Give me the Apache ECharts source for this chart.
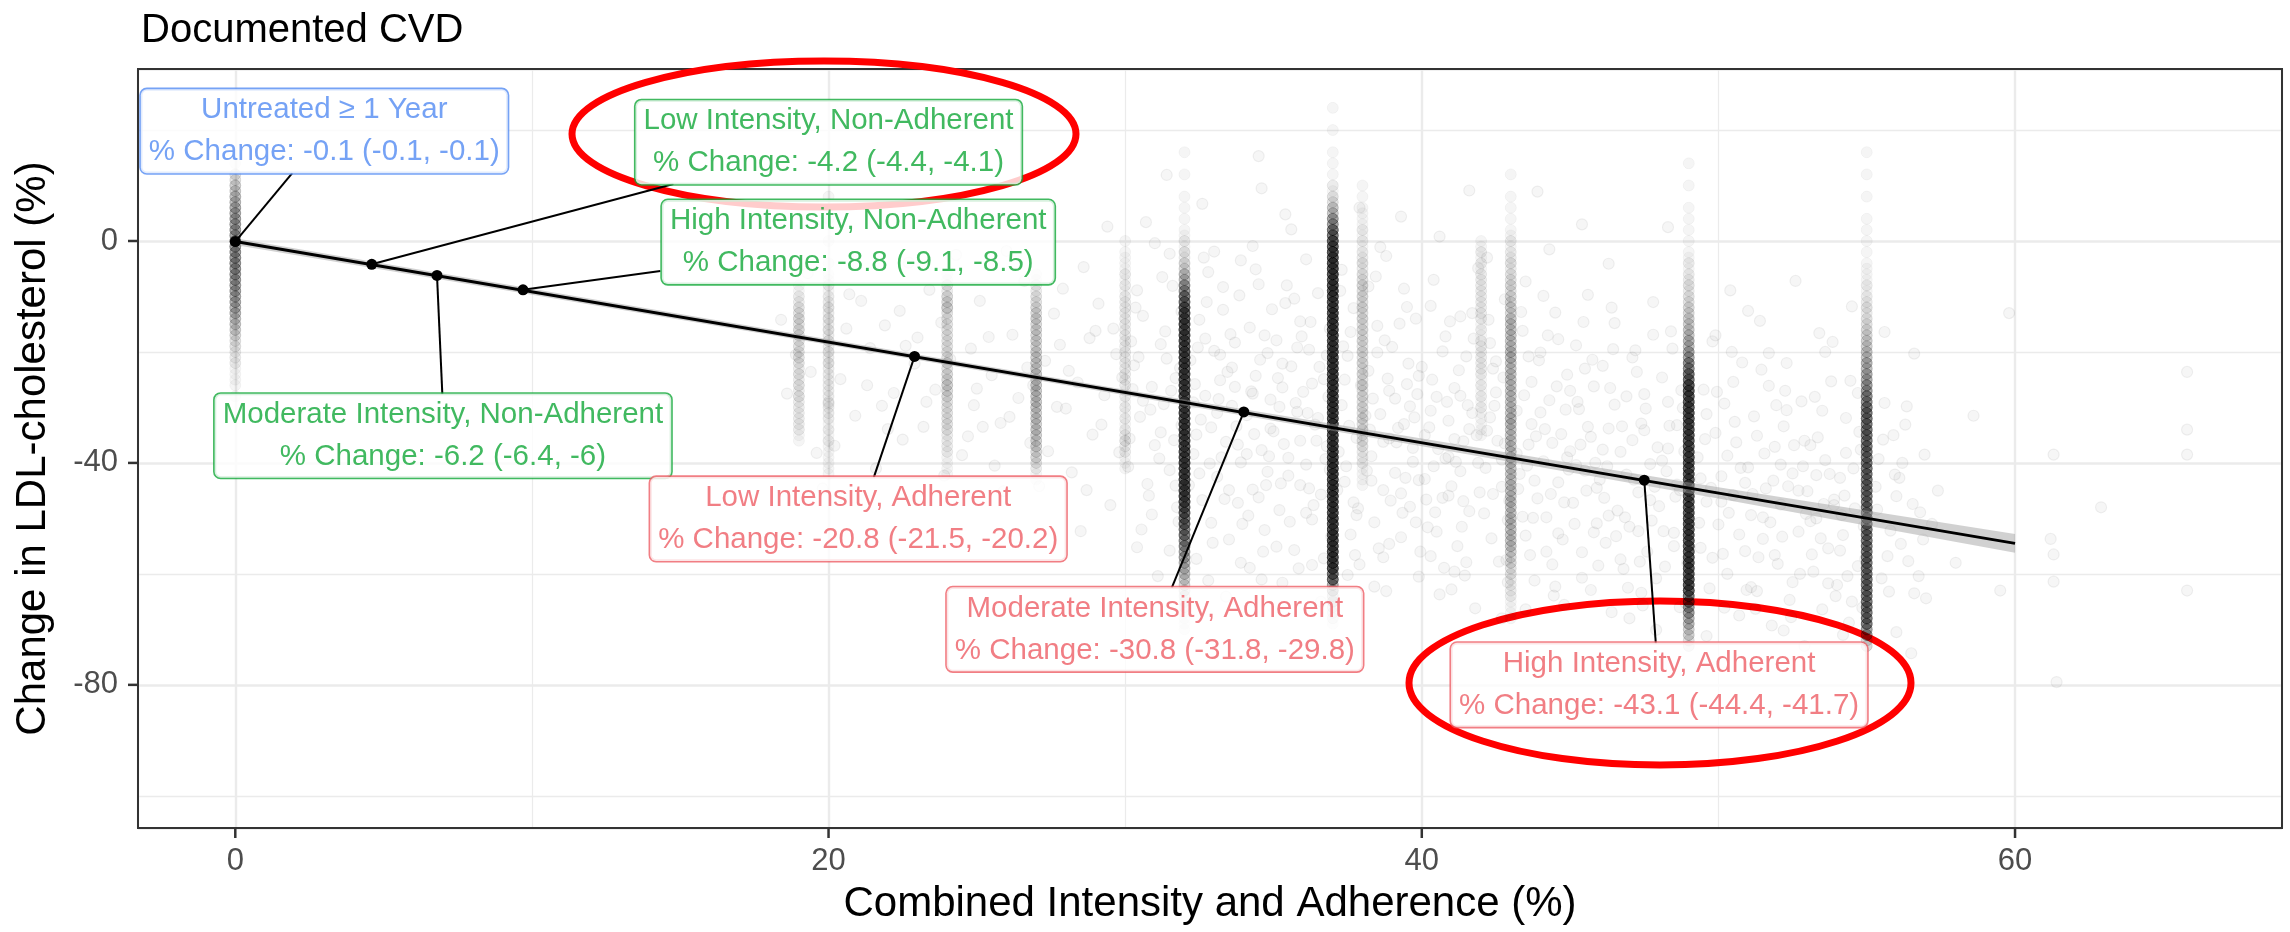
<!DOCTYPE html>
<html>
<head>
<meta charset="utf-8">
<title>Documented CVD</title>
<script src="https://cdn.jsdelivr.net/npm/echarts@6/dist/echarts.min.js"></script>
<style>
  html, body { margin: 0; padding: 0; background: #ffffff; }
  #chart { width: 2290px; height: 932px; }
</style>
</head>
<body>
<div id="chart"></div>
<script>
// ---------------- data ----------------
const xTicks = [0, 20, 40, 60];
const yTicks = [-80, -40, 0];
const xRange = [-3.28, 69.0];
const yRange = [-105.8, 31.0];

// Patients who share an exact intensity x adherence value form vertical columns.
// Each column: its x, the y of its first 2-point bin, and patient counts per bin going down.
const colX   = [0, 19, 20, 24, 27, 30, 32, 37, 38, 42, 43, 49, 55];
const colTop = [14, -8, 8, -6, -6, 0, 16, 24, 10, 0, 12, 14, 16];
const colCounts = [
  [1,6,10,14,18,20,22,24,24,24,22,20,18,16,12,9,6,4,3,2,1,1],
  [2,4,6,7,7,6,6,5,5,5,5,4,4,3,1],
  [1,0,1,0,1,0,1,2,3,4,5,5,5,5,5,5,4,4,4,4,3,3,3,2,2,1],
  [2,5,8,7,6,6,6,6,7,8,9,7,6,6,5,4,3,2,1],
  [2,4,6,8,9,9,9,10,10,11,12,12,11,11,11,10,8,5,2],
  [1,2,2,3,3,4,4,4,4,4,4,4,4,3,3,3,3,4,5,3,2],
  [1,0,1,0,1,1,1,2,3,5,8,14,24,36,48,52,52,52,52,52,52,52,52,52,52,52,52,52,52,52,52,52,44,38,32,26,20,15,11,8,5,3,2,1],
  [1,0,1,0,1,1,1,3,6,12,22,36,48,56,56,56,56,56,56,56,56,56,56,56,56,56,56,56,56,56,56,56,56,56,56,56,56,56,56,56,56,56,40,20,10,5,3],
  [1,1,2,2,3,3,4,5,6,7,7,7,7,7,7,7,7,7,7,7,7,7,7,6,4,3,2,1],
  [2,3,3,4,4,4,4,3,3,4,4,4,3,3,3,3,2,2],
  [1,0,1,1,1,2,3,4,5,6,7,8,9,12,12,12,14,12,12,12,12,12,14,12,12,12,12,12,12,12,12,12,12,12,9,7,5,4,3,2,1],
  [1,0,1,0,1,1,1,1,2,3,4,5,6,8,10,12,15,20,28,38,50,50,50,50,50,50,50,50,50,50,50,50,50,50,50,50,50,50,50,36,24,16,10,6],
  [1,0,1,0,1,0,1,1,1,1,2,2,3,4,5,6,8,10,12,15,18,22,28,34,34,34,34,34,34,34,34,34,34,34,34,34,34,34,34,34,34,34,34,22,8]
];

// Patients scattered between the columns: [x, y]
const cloudPts = [
  [18.4,-14.2],[18.6,-27.5],[19.3,-5.8],[19.6,-38.2],[20.4,-24.9],[20.7,-9.6],[20.9,-31.5],[21.1,-10.8],
  [21.4,-19.3],[21.6,-41.0],[21.9,-15.2],[22.2,-27.4],[22.5,-35.8],[22.7,-3.9],[22.9,-22.1],[23.2,-33.5],
  [23.4,-8.8],[21.8,-29.7],[19.8,-44.6],[22.4,-12.6],[20.2,-36.9],[18.9,-20.5],[23.0,-17.4],
  [23.6,-26.8],[23.8,-14.7],[24.3,-2.5],[24.5,-38.6],[24.8,-19.4],[25.1,-10.8],[25.2,-33.5],[25.5,-24.2],
  [25.8,-32.8],[25.9,-45.1],[26.2,-16.9],[26.4,-28.3],[26.6,-7.2],[26.8,-36.4],[27.3,-21.6],[27.6,-13.1],
  [27.8,-18.7],[28.0,-30.2],[28.2,-41.7],[28.4,-25.5],[28.6,-4.7],[28.8,-17.5],[28.9,-34.9],[29.1,-11.3],
  [29.3,-27.8],[29.5,-47.6],[29.7,-20.4],[29.8,-38.1],[23.9,-42.3],[24.9,-29.6],[26.0,-1.8],[27.1,-44.2],
  [28.5,-52.3],[29.4,2.6],[25.6,-40.5],[26.9,-26.0],[24.1,-21.3],[27.9,-8.6],
  [30.3,-22.4],[30.5,-31.7],[30.6,-13.5],[30.8,-45.9],[30.9,-26.3],[30.4,-55.2],[30.7,3.4],[31.0,-36.8],
  [31.2,-18.6],[31.4,11.9],[31.3,-29.4],[31.5,-41.3],[31.6,-8.1],[31.7,-24.7],[31.8,-50.6],[31.9,-33.2],
  [31.1,-60.4],[31.5,-2.3],[32.2,-21.5],[32.3,-38.4],[32.5,-14.2],[32.6,-46.7],[32.7,-27.9],[32.8,-5.6],
  [32.9,-33.6],[32.4,-57.3],[33.0,-19.8],[32.6,6.7],[33.1,-42.5],[33.2,-25.1],[33.3,-12.4],[33.4,-36.2],
  [33.5,-53.8],[33.6,-29.7],[33.7,-18.3],[33.8,-47.2],[33.9,-3.5],[33.4,-64.1],[33.6,-22.8],[33.9,-39.9],
  [34.1,-31.4],[34.2,-15.6],[34.3,-44.8],[34.4,-24.3],[34.5,15.3],[34.6,9.5],[34.6,-37.7],[34.7,-52.1],
  [34.8,-20.2],[34.9,-28.6],[34.2,-58.9],[34.5,-7.8],[34.8,-41.6],[34.3,-0.9],[35.0,-34.3],[35.1,-17.9],
  [35.2,-48.5],[35.3,-26.4],[35.4,-11.2],[35.5,-39.1],[35.6,-22.6],[35.7,-55.7],[35.8,-30.8],[35.9,-44.0],
  [35.3,-61.6],[35.6,2.1],[35.9,-14.5],[36.0,-27.2],[36.1,-40.3],[36.2,-19.6],[36.3,-50.2],[36.4,-33.1],
  [36.5,-9.4],[36.6,-45.7],[36.7,-24.9],[36.8,-37.0],[36.3,-58.4],[36.1,-3.3],[36.9,-15.8],[36.6,-65.0],
  [37.3,-29.6],[37.4,-43.4],[37.5,-20.7],[37.6,-52.9],[37.7,-12.1],[37.8,-35.5],[37.9,6.0],[37.5,-60.2],
  [37.3,-5.2],[37.7,-47.1],
  [38.2,-23.4],[38.3,-38.8],[38.4,-50.7],[38.5,-15.3],[38.6,-31.2],[38.7,-44.9],[38.8,-2.7],[38.9,-27.0],
  [38.4,-62.3],[38.7,-57.0],[38.9,-35.6],[39.0,-19.1],[39.1,-41.8],[39.2,-33.7],[39.3,-53.4],[39.4,-8.6],
  [39.5,-25.8],[39.6,-47.9],[39.7,-37.3],[39.8,-14.0],[39.9,-60.5],[39.3,4.4],[39.6,-29.8],[39.9,-43.1],
  [40.0,-22.7],[40.1,-35.0],[40.2,-51.6],[40.3,-11.7],[40.4,-40.6],[40.5,-28.1],[40.6,-63.7],[40.7,-46.3],
  [40.8,-17.2],[40.9,-32.4],[40.3,-56.8],[40.6,0.8],[40.9,-38.9],[41.0,-44.2],[41.1,-26.5],[41.2,-55.0],
  [41.3,-13.6],[41.4,-36.1],[41.5,-20.8],[41.6,-48.7],[41.7,-31.0],[41.8,-66.2],[41.9,-4.9],[41.3,-41.5],
  [41.6,9.1],[41.1,-59.6],[42.2,-34.2],[42.3,-18.4],[42.4,-45.6],[42.5,-27.3],[42.6,-57.8],[42.7,-39.4],
  [42.8,-10.5],[42.9,-50.3],[42.4,-23.0],[42.7,-68.0],[43.2,-30.6],[43.3,-42.0],[43.4,-16.2],[43.5,-53.1],
  [43.6,-36.7],[43.7,-25.4],[43.8,-61.2],[43.9,8.9],[43.9,-46.4],[43.5,-7.3],[43.7,-33.0],[44.0,-20.1],
  [44.1,-39.7],[44.2,-49.8],[44.3,-28.7],[44.4,-58.3],[44.5,-12.9],[44.6,-43.5],[44.7,-34.8],[44.8,-65.6],
  [44.9,-24.1],[44.3,-1.5],[44.6,-52.7],[45.0,-37.9],[45.1,-47.2],[45.2,-18.8],[45.3,-30.3],[45.4,-56.1],
  [45.5,-41.4],[45.6,-9.7],[45.7,-62.9],[45.8,-26.2],[45.9,-50.9],[45.4,3.0],[45.7,-35.3],
  [46.0,-43.0],[46.1,-22.5],[46.2,-54.4],[46.3,-33.8],[46.4,-66.9],[46.5,-14.8],[46.6,-48.6],[46.7,-38.0],
  [46.8,-59.1],[46.9,-28.0],[46.3,-4.1],[47.0,-51.5],[47.1,-35.9],[47.2,-19.7],[47.3,-45.3],[47.4,-63.4],
  [47.5,-27.6],[47.6,-56.0],[47.7,-40.2],[47.8,-11.0],[47.9,-70.1],[47.4,-32.9],[48.0,-47.8],[48.1,-24.6],
  [48.2,-58.7],[48.3,-37.4],[48.4,-16.3],[48.5,-52.6],[48.6,-43.9],[48.7,-66.0],[48.8,-30.1],[48.3,2.5],
  [49.3,-39.0],[49.4,-55.3],[49.5,-26.8],[49.6,-47.0],[49.7,-62.6],[49.8,-18.1],[49.9,-34.6],[49.6,-71.2],
  [50.0,-51.1],[50.1,-42.4],[50.2,-29.3],[50.3,-60.0],[50.4,-8.9],[50.5,-45.8],[50.6,-36.3],[50.7,-67.5],
  [50.8,-21.9],[50.9,-55.9],[51.0,-40.8],[51.1,-49.4],[51.2,-31.6],[51.3,-63.1],[51.4,-14.4],[51.5,-53.7],
  [51.6,-44.6],[51.7,-26.1],[51.8,-69.3],[51.9,-37.1],[52.0,-58.2],[52.1,-47.5],[52.2,-33.4],[52.3,-22.0],
  [52.4,-64.7],[52.5,-41.9],[52.6,-7.2],[52.7,-52.4],[52.8,-28.9],[52.9,-73.0],[53.0,-45.1],[53.1,-36.8],
  [53.2,-59.6],[53.3,-50.0],[53.4,-16.6],[53.5,-66.4],[53.6,-39.5],[53.7,-55.4],[53.8,-25.3],[53.9,-47.6],
  [54.0,-62.0],[54.1,-42.7],[54.2,-53.0],[54.3,-31.9],[54.4,-68.8],[54.5,-11.8],[54.6,-48.2],[54.7,-58.6],
  [54.8,-37.6],[55.3,-44.3],[55.5,-60.8],[55.6,-29.2],[55.8,-52.2],[56.0,-70.5],[56.2,-40.0],[56.4,-57.7],
  [56.6,-20.3],[56.8,-48.9],[57.0,-64.4],[55.9,-35.0],[56.5,-74.3],
  [57.4,-45.0],[58.0,-58.0],[58.6,-31.5],[59.8,-13.0],[59.5,-63.0],[61.2,-53.7],[61.3,-56.5],[61.3,-61.4],
  [61.4,-79.5],[61.3,-38.5],[65.8,-23.6],[65.8,-34.0],[65.8,-38.5],[65.8,-63.0],[62.9,-48.0],
  [29.2,-33.1],[29.6,-15.8],[30.1,-40.7],[30.4,-8.9],[30.6,-28.8],[30.9,-49.3],[31.2,-34.5],[31.4,-21.2],
  [31.7,-44.1],[31.9,-12.7],[30.2,-18.1],[31.0,-0.4],[29.9,-24.6],[31.5,-55.8],
  [32.3,-29.1],[32.5,-41.9],[32.7,-17.6],[32.9,-50.8],[33.1,-31.0],[33.3,-8.3],[33.5,-44.9],[33.7,-26.3],
  [33.9,-58.0],[32.4,-34.9],[33.2,-20.5],[33.8,-36.7],[32.8,-61.2],[33.0,-1.9],
  [34.1,-38.4],[34.3,-27.5],[34.5,-46.2],[34.7,-17.0],[34.9,-33.8],[35.1,-55.1],[35.3,-22.1],[35.5,-42.3],
  [35.7,-10.4],[35.9,-36.0],[36.1,-49.0],[36.3,-25.7],[36.5,-31.9],[36.7,-57.2],[36.9,-41.2],[34.4,-5.1],
  [35.2,-29.9],[35.8,-19.2],[36.2,-44.6],[36.8,-20.6],[34.6,-61.0],[35.4,4.8],
  [37.2,-38.0],[37.4,-25.0],[37.6,-16.4],[37.8,-49.4],[38.1,-31.5],[38.3,-43.2],[38.5,-20.1],[38.7,-36.2],
  [38.9,-54.6],[39.1,-28.4],[39.3,-45.5],[39.5,-11.9],[39.7,-39.8],[39.9,-24.3],[38.2,-8.2],[38.8,-63.1],
  [39.4,-33.0],[37.9,-58.3],[39.8,-50.7],[38.6,-1.1],
  [40.1,-42.9],[40.3,-30.6],[40.5,-52.4],[40.7,-19.9],[40.9,-45.9],[41.1,-35.7],[41.3,-27.9],[41.5,-57.9],
  [41.7,-13.0],[41.9,-40.0],[42.1,-49.1],[42.3,-31.8],[42.5,-21.7],[42.7,-44.3],[42.9,-61.5],[40.4,-7.0],
  [41.0,-62.8],[41.6,-33.9],[42.2,-3.0],[42.8,-36.5],[40.8,-39.2],[41.4,-46.9],
  [43.2,-38.3],[43.4,-49.7],[43.6,-20.8],[43.8,-43.2],[44.0,-30.9],[44.2,-56.0],[44.4,-36.4],[44.6,-17.7],
  [44.8,-47.1],[45.0,-27.0],[45.2,-40.4],[45.4,-60.7],[45.6,-33.5],[45.8,-52.5],[43.5,-66.4],[44.1,-9.9],
  [44.9,-39.0],[45.5,-23.0],[45.9,-44.5],[44.5,-62.3],
  [46.1,-37.6],[46.3,-49.5],[46.5,-29.5],[46.7,-57.4],[46.9,-42.1],[47.1,-21.0],[47.3,-52.3],[47.5,-34.1],
  [47.7,-46.7],[47.9,-60.8],[48.1,-39.6],[48.3,-29.0],[48.5,-55.0],[48.7,-44.9],[46.4,-12.0],[47.0,-68.0],
  [47.8,-16.9],[48.6,-33.2],[48.9,-65.3],
  [49.4,-42.8],[49.6,-31.2],[49.8,-57.1],[50.1,-47.0],[50.3,-38.7],[50.5,-25.4],[50.7,-52.9],[50.9,-43.6],
  [51.1,-62.4],[51.3,-35.1],[51.5,-49.8],[51.7,-20.2],[51.9,-56.6],[52.1,-40.3],[52.3,-30.5],[52.5,-61.5],
  [52.7,-45.0],[52.9,-36.0],[50.2,-66.1],[51.0,-12.6],[52.2,-70.2],[49.9,-17.0],
  [53.1,-50.5],[53.3,-42.2],[53.5,-30.6],[53.7,-61.7],[53.9,-46.6],[54.1,-55.8],[54.3,-38.2],[54.5,-65.0],
  [54.7,-27.4],[54.9,-51.4],[55.4,-39.3],[55.7,-56.8],[56.0,-46.0],[56.3,-33.1],[56.6,-63.5],[56.9,-53.8],
  [53.6,-20.0],[54.2,-71.0],[55.6,-16.4],[56.1,-42.7],
  [19.4,-23.6],[20.6,-15.8],[21.3,-26.0],[22.0,-33.9],[22.6,-18.9],[23.3,-29.0],[24.0,-12.1],[24.7,-35.2],
  [25.4,-17.3],[26.1,-31.7],[26.7,-22.8],[27.4,-37.9],[28.1,-23.4],[28.7,-44.9],[29.0,-16.2],[20.0,-29.3],
  [25.0,-26.6],[27.7,-29.9],
  [30.15,-35.6],[30.45,-20.9],[30.75,-43.8],[30.35,-12.0],[30.85,-30.4],[30.55,-52.0],[30.25,-26.7],
  [31.15,-39.2],[31.35,-16.3],[31.55,-27.0],[31.75,-48.0],[31.25,-6.5],[31.65,-35.9],[31.85,-22.9],
  [32.15,-44.0],[32.35,-25.8],[32.55,-32.2],[32.75,-11.0],[32.95,-54.4],[32.45,-19.2],[32.85,-40.1],[32.65,-3.0],
  [33.15,-28.5],[33.35,-46.5],[33.55,-16.8],[33.75,-33.4],[33.95,-51.0],[33.25,-39.0],[33.45,-23.6],[33.85,-9.8],
  [34.15,-49.5],[34.35,-34.8],[34.55,-21.4],[34.75,-44.0],[34.95,-12.3],[34.25,-27.1],[34.65,-56.0],[34.85,-38.8],
  [35.15,-24.7],[35.35,-36.6],[35.55,-50.6],[35.75,-29.2],[35.95,-17.2],[35.25,-43.7],[35.45,-8.0],[35.85,-59.0],
  [36.15,-31.0],[36.35,-47.6],[36.55,-22.7],[36.75,-39.3],[36.95,-53.2],[36.25,-14.6],[36.45,-36.0],[36.85,-28.1],
  [37.15,-44.9],[37.35,-19.0],[37.55,-33.3],[37.75,-56.6],[37.95,-26.0],[37.25,-9.0],[37.45,-40.6],[37.85,-48.2],
  [38.15,-41.4],[38.35,-28.4],[38.55,-55.4],[38.75,-17.9],[38.95,-46.8],[38.25,-34.0],[38.45,-6.4],[38.85,-24.8],
  [39.15,-36.3],[39.35,-49.0],[39.55,-22.1],[39.75,-31.8],[39.95,-56.0],[39.25,-14.9],[39.45,-42.7],[39.85,-27.6],
  [40.15,-46.6],[40.35,-25.0],[40.55,-37.5],[40.75,-58.9],[40.95,-14.5],[40.25,-33.6],[40.45,-48.9],[40.85,-29.0],
  [41.15,-39.8],[41.35,-51.5],[41.55,-29.6],[41.75,-17.6],[41.95,-45.3],[41.25,-23.3],[41.45,-60.3],[41.85,-35.0],
  [42.15,-40.9],[42.35,-53.6],[42.55,-36.0],[42.75,-24.6],[42.95,-46.8],[42.25,-14.2],[42.45,-29.7],[42.85,-57.5],
  [43.25,-44.7],[43.45,-27.8],[43.65,-56.6],[43.85,-35.2],[43.35,-12.8],[43.55,-40.5],[43.75,-49.9],[43.95,-21.5],
  [44.15,-33.9],[44.35,-45.6],[44.55,-26.2],[44.75,-53.8],[44.95,-41.2],[44.25,-17.0],[44.45,-63.9],[44.85,-30.4],
  [45.15,-51.0],[45.35,-36.7],[45.55,-45.0],[45.75,-21.4],[45.95,-58.5],[45.25,-29.0],[45.45,-14.6],[45.85,-40.0],
  [46.15,-46.3],[46.35,-26.5],[46.55,-53.2],[46.75,-33.4],[46.95,-62.5],[46.25,-40.6],[46.45,-19.5],[46.85,-49.8],
  [47.15,-43.0],[47.35,-57.8],[47.55,-30.2],[47.75,-50.4],[47.95,-37.2],[47.25,-23.6],[47.45,-65.7],[47.85,-44.3],
  [48.15,-52.3],[48.35,-33.3],[48.55,-46.1],[48.75,-26.9],[48.95,-58.0],[48.25,-41.5],[48.45,-19.4],[48.85,-37.9],
  [49.35,-50.8],[49.55,-35.7],[49.75,-44.5],[49.95,-27.2],[50.15,-56.4],[50.35,-49.0],[50.55,-32.6],[50.75,-40.9],
  [50.95,-62.9],[50.45,-20.0],
  [51.15,-45.6],[51.35,-57.0],[51.55,-38.3],[51.75,-50.7],[51.95,-29.6],[51.25,-66.3],[51.45,-23.2],[51.85,-43.2],
  [52.15,-53.3],[52.35,-44.2],[52.55,-36.8],[52.75,-60.0],[52.95,-49.2],[52.25,-27.0],[52.45,-67.8],[52.85,-40.6],
  [53.15,-56.5],[53.35,-35.4],[53.55,-47.4],[53.75,-42.0],[53.95,-64.0],[53.25,-28.1],[53.45,-53.6],[53.85,-18.2],
  [54.15,-49.4],[54.35,-60.4],[54.55,-41.0],[54.75,-34.4],[54.95,-57.3],[54.25,-45.9],[54.45,-25.2],[54.85,-66.1],
  [55.35,-48.4],[55.55,-35.8],[55.75,-63.2],[55.95,-42.1],[56.15,-54.6],[56.35,-29.8],[56.55,-47.4],[56.75,-60.4],
  [56.95,-38.5],[57.2,-51.0]
];

// Linear fit and its confidence band
const fitX = [0, 60];
const fitY = [-0.1, -54.5];
const ciX    = [0, 10, 20, 30, 40, 50, 60];
const ciLow  = [-0.7, -9.7, -18.7, -27.8, -37.0, -46.4, -56.2];
const ciHigh = [0.5, -8.6, -17.7, -26.8, -35.6, -44.4, -52.8];

// Treatment groups: position on the fit and the estimated % change (95% CI)
const groupNames = [
  'Untreated \u2265 1 Year',
  'Low Intensity, Non-Adherent',
  'Moderate Intensity, Non-Adherent',
  'High Intensity, Non-Adherent',
  'Low Intensity, Adherent',
  'Moderate Intensity, Adherent',
  'High Intensity, Adherent'
];
const groupKind = ['untreated', 'nonadherent', 'nonadherent', 'nonadherent', 'adherent', 'adherent', 'adherent'];
const groupX   = [0, 4.6, 6.8, 9.7, 22.9, 34.0, 47.5];
const groupPct = [-0.1, -4.2, -6.2, -8.8, -20.8, -30.8, -43.1];
const groupLo  = [-0.1, -4.4, -6.4, -9.1, -21.5, -31.8, -44.4];
const groupHi  = [-0.1, -4.1, -6, -8.5, -20.2, -29.8, -41.7];

// ---------------- label layout (data units) ----------------
const labelCentre = [[3.0, 19.8], [20.0, 17.8], [7.0, -35.1], [21.0, -0.2], [21.0, -50.1], [31.0, -70.0], [48.0, -80.0]];
const leaderEnd   = [[1.92, 12.25], [14.77, 10.27], [6.98, -27.6], [14.33, -5.41], [21.52, -42.7], [31.57, -62.5], [47.89, -72.6]];

// ---------------- styling ----------------
const FONT = '"Liberation Sans", Arial, Helvetica, sans-serif';
const kindColor = { untreated: '#538BF2', nonadherent: '#12A838', adherent: '#EE5E65' };

// expand column bins into individual patient points
const columnPts = [];
colX.forEach((x, i) => {
  colCounts[i].forEach((c, k) => {
    const y = colTop[i] - 2 * k;
    for (let n = 0; n < c; n++) columnPts.push([x, n % 2 ? y - 1 : y]);
  });
});

const labelData = groupNames.map((name, i) => ({
  value: labelCentre[i],
  name: name,
  label: {
    color: kindColor[groupKind[i]],
    borderColor: kindColor[groupKind[i]],
    formatter: name + '\n% Change: ' + groupPct[i] + ' (' + groupLo[i] + ', ' + groupHi[i] + ')'
  }
}));

const leaderData = groupNames.map((n, i) => ({ coords: [[groupX[i], groupPct[i]], leaderEnd[i]] }));

const chart = echarts.init(document.getElementById('chart'), null, { renderer: 'canvas' });

const frameGraphics = [
  { type: 'rect', id: 'frame', z: 50, silent: true,
    shape: { x: 138, y: 69, width: 2144, height: 759 },
    style: { fill: 'none', stroke: '#333333', lineWidth: 2 } },
  { type: 'ellipse', id: 'ring1', z: 100, silent: true,
    shape: { cx: 824, cy: 134, rx: 252, ry: 73 },
    style: { fill: 'none', stroke: '#ff0000', lineWidth: 7 } },
  { type: 'ellipse', id: 'ring2', z: 100, silent: true,
    shape: { cx: 1660, cy: 683, rx: 251, ry: 82 },
    style: { fill: 'none', stroke: '#ff0000', lineWidth: 7 } }
];

chart.setOption({
  animation: false,
  backgroundColor: '#ffffff',
  title: {
    text: 'Documented CVD', left: 136, top: 6,
    textStyle: { fontFamily: FONT, fontSize: 40, fontWeight: 'normal', color: '#000' }
  },
  grid: { left: 138, top: 69, right: 8, bottom: 104 },
  xAxis: {
    type: 'value', position: 'bottom', min: xRange[0], max: xRange[1], minInterval: 20, maxInterval: 20,
    name: 'Combined Intensity and Adherence (%)', nameLocation: 'middle', nameGap: 55,
    nameTextStyle: { fontFamily: FONT, fontSize: 42, color: '#000' },
    axisLine: { show: false, onZero: false },
    axisTick: { show: false },
    axisLabel: { customValues: xTicks, margin: 18, fontFamily: FONT, fontSize: 31, color: '#4d4d4d' },
    splitLine: { show: true, lineStyle: { color: '#ebebeb', width: 2.4 } },
    minorTick: { show: false, splitNumber: 2 },
    minorSplitLine: { show: true, lineStyle: { color: '#ebebeb', width: 1.2 } }
  },
  yAxis: {
    type: 'value', position: 'left', min: yRange[0], max: yRange[1], minInterval: 40, maxInterval: 40,
    name: 'Change in LDL-cholesterol (%)', nameLocation: 'middle', nameGap: 84,
    nameTextStyle: { fontFamily: FONT, fontSize: 42, color: '#000' },
    axisLine: { show: false, onZero: false },
    axisTick: { show: false },
    axisLabel: { customValues: yTicks, margin: 20, fontFamily: FONT, fontSize: 31, color: '#4d4d4d' },
    splitLine: { show: true, lineStyle: { color: '#ebebeb', width: 2.6 } },
    minorTick: { show: false, splitNumber: 2 },
    minorSplitLine: { show: true, lineStyle: { color: '#ebebeb', width: 1.4 } }
  },
  series: [
    {
      name: 'columns', type: 'scatter', data: columnPts, symbolSize: 11, z: 2,
      progressive: 0, silent: true,
      itemStyle: { color: 'rgba(0,0,0,0.05)', borderColor: 'rgba(0,0,0,0.05)', borderWidth: 1 }
    },
    {
      name: 'scattered', type: 'scatter', data: cloudPts, symbolSize: 11, z: 2,
      progressive: 0, silent: true,
      itemStyle: { color: 'rgba(0,0,0,0.045)', borderColor: 'rgba(0,0,0,0.08)', borderWidth: 1.2 }
    },
    {
      name: 'band', type: 'custom', data: [[0, 0]], z: 3, silent: true,
      renderItem: function (params, api) {
        const upper = ciX.map((x, i) => api.coord([x, ciHigh[i]]));
        const lower = ciX.map((x, i) => api.coord([x, ciLow[i]])).reverse();
        return { type: 'polygon', shape: { points: upper.concat(lower) }, style: { fill: 'rgba(153,153,153,0.45)' } };
      }
    },
    {
      name: 'fit', type: 'line', data: fitX.map((x, i) => [x, fitY[i]]), z: 4,
      showSymbol: false, silent: true,
      lineStyle: { color: '#000', width: 3 }
    },
    {
      name: 'leaders', type: 'lines', coordinateSystem: 'cartesian2d', data: leaderData, z: 5, silent: true,
      lineStyle: { color: '#000', width: 2, opacity: 1 }
    },
    {
      name: 'groups', type: 'scatter', data: groupX.map((x, i) => [x, groupPct[i]]), z: 6,
      symbolSize: 11, silent: true, itemStyle: { color: '#000', opacity: 1 }
    },
    {
      name: 'labels', type: 'scatter', data: labelData, z: 7, symbolSize: 1, silent: true,
      itemStyle: { color: 'rgba(0,0,0,0)' },
      label: {
        show: true, position: 'inside', align: 'center', verticalAlign: 'middle',
        fontFamily: FONT, fontSize: 29.5, lineHeight: 42,
        backgroundColor: '#ffffff', borderWidth: 1.6, borderRadius: 6, padding: [0, 8]
      }
    }
  ],
  graphic: frameGraphics
});

// outward tick marks on the bottom and left edges, placed through the axis scales
const tickMarks = [];
xTicks.forEach((v, i) => {
  const p = chart.convertToPixel({ gridIndex: 0 }, [v, yRange[0]]);
  tickMarks.push({ type: 'line', id: 'xtick' + i, z: 60, silent: true,
    shape: { x1: p[0], y1: p[1], x2: p[0], y2: p[1] + 10 },
    style: { stroke: '#333333', lineWidth: 2.5 } });
});
yTicks.forEach((v, i) => {
  const p = chart.convertToPixel({ gridIndex: 0 }, [xRange[0], v]);
  tickMarks.push({ type: 'line', id: 'ytick' + i, z: 60, silent: true,
    shape: { x1: p[0] - 10, y1: p[1], x2: p[0], y2: p[1] },
    style: { stroke: '#333333', lineWidth: 2.5 } });
});
chart.setOption({ graphic: frameGraphics.concat(tickMarks) });
</script>
</body>
</html>
